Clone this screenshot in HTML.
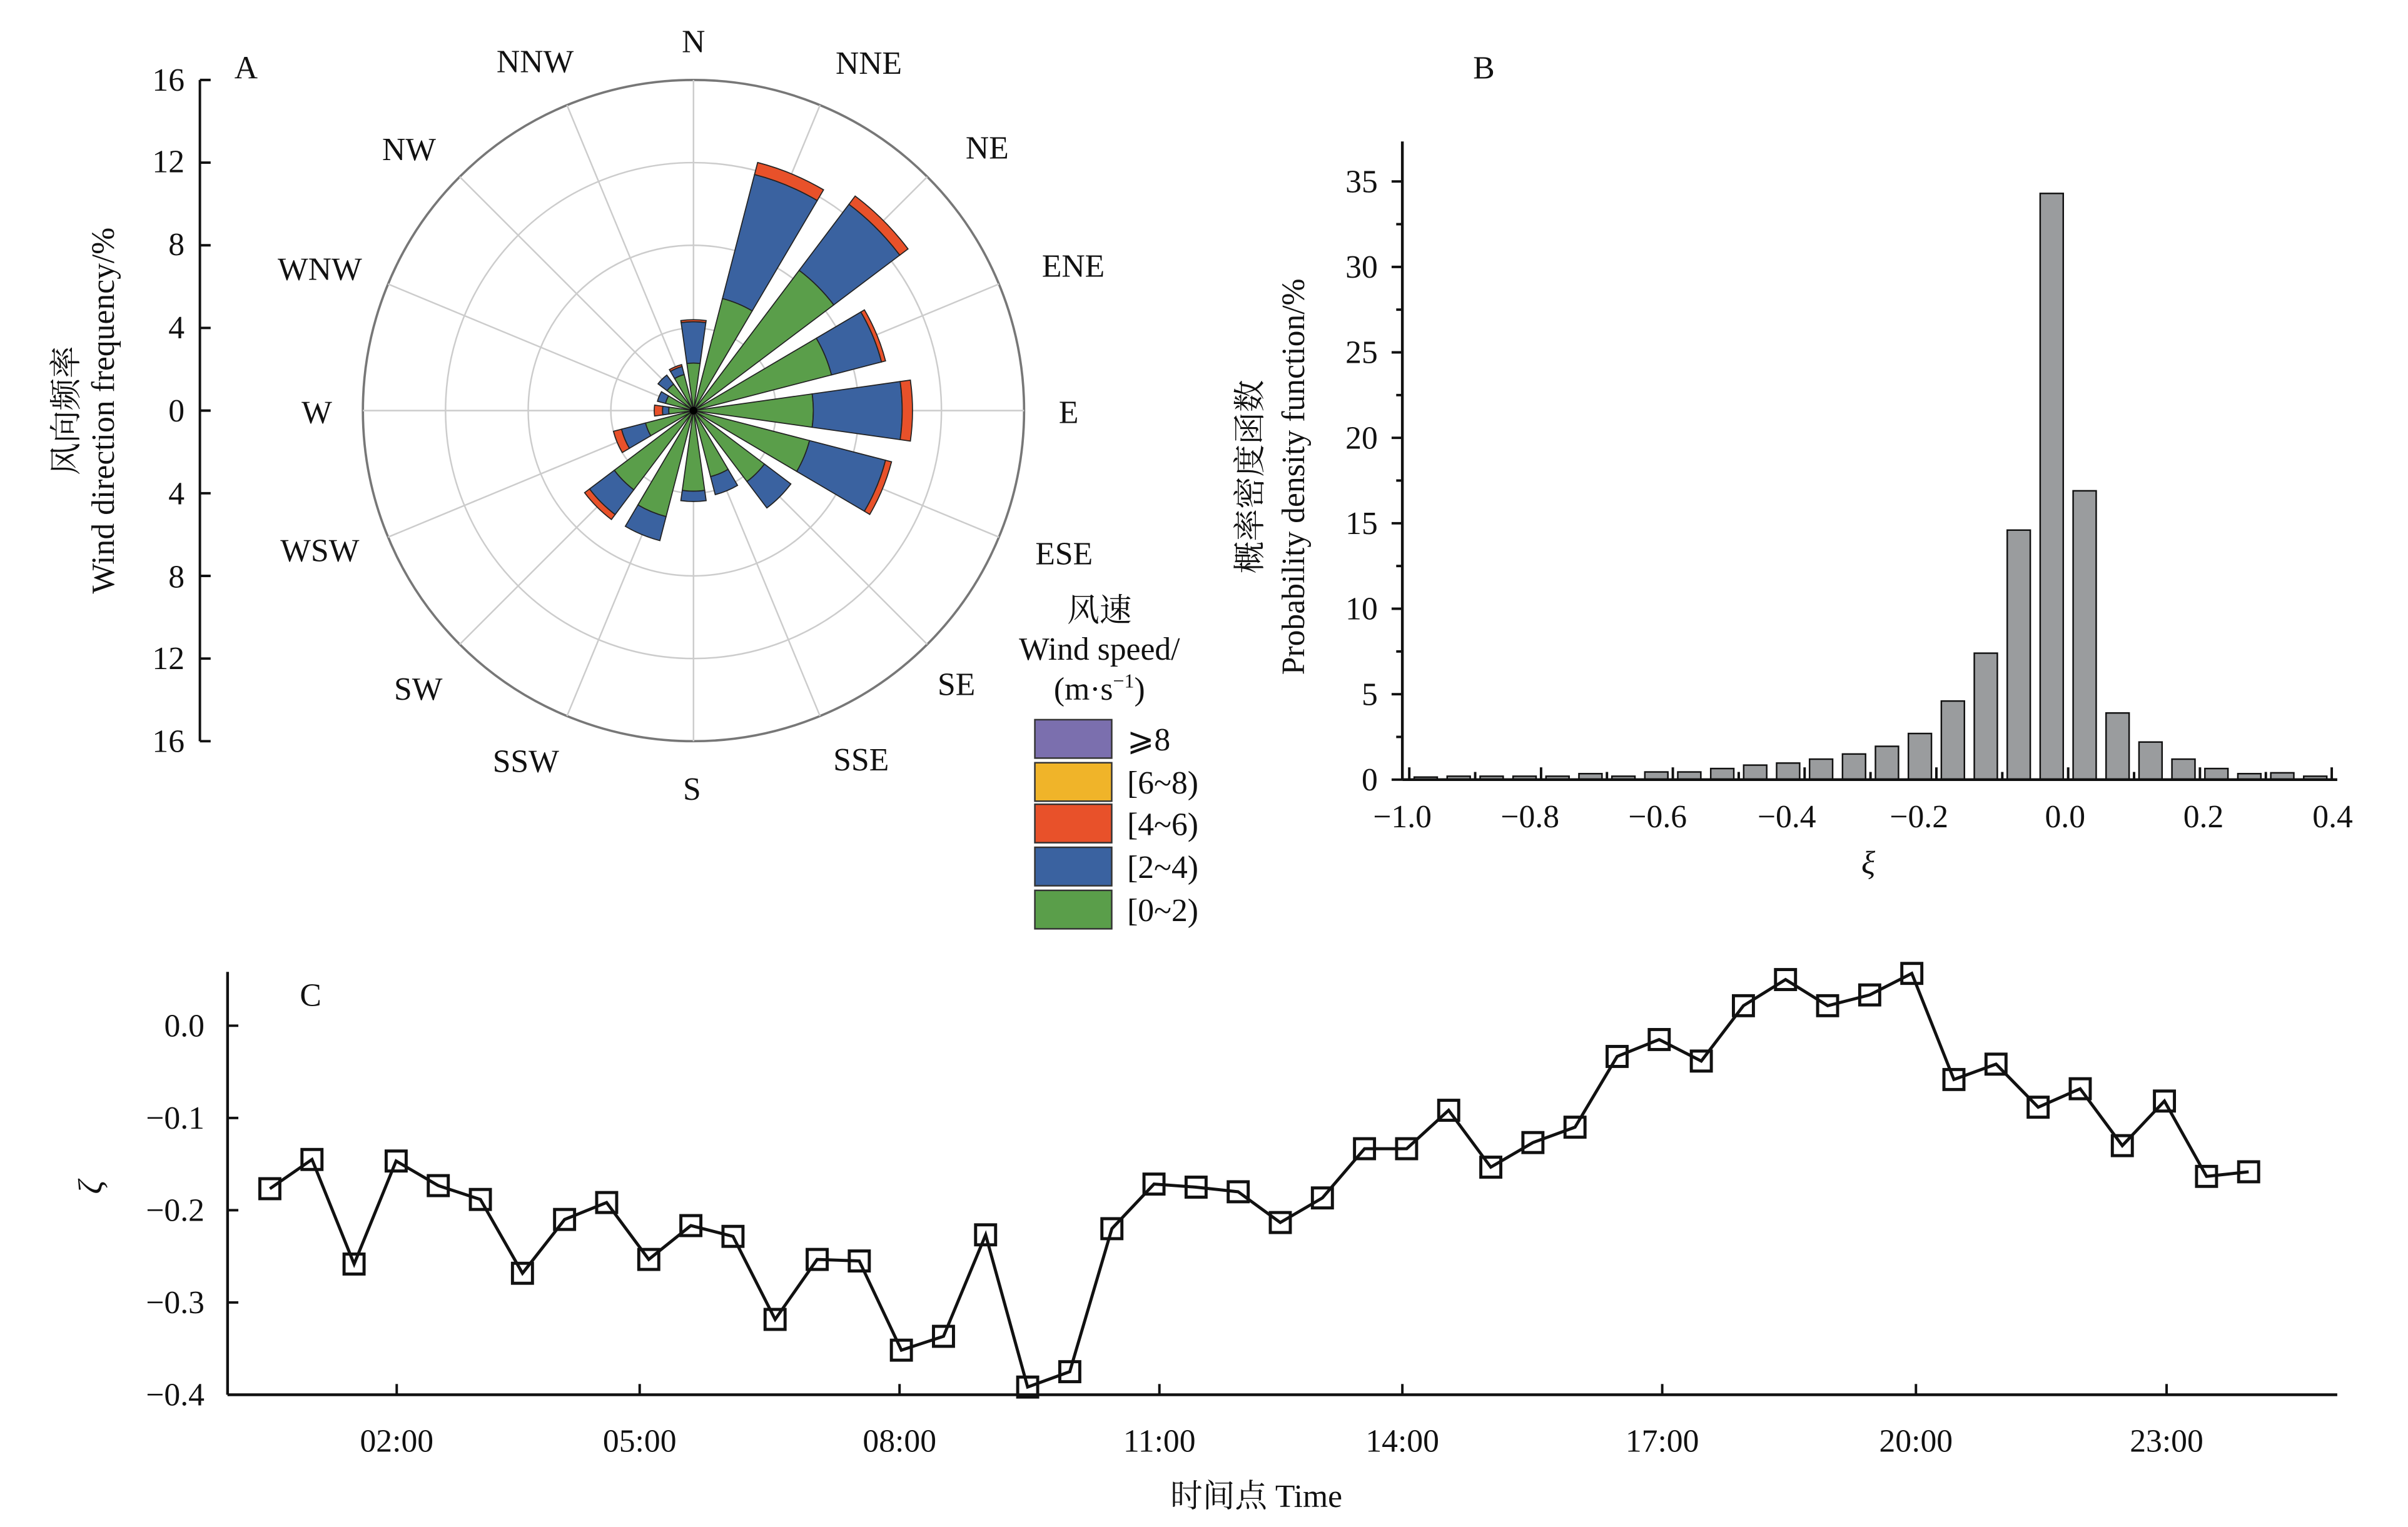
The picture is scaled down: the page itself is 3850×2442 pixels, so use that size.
<!DOCTYPE html>
<html><head><meta charset="utf-8"><style>
html,body{margin:0;padding:0;background:#fff}
svg{display:block}
text{font-family:"Liberation Serif","Noto Serif CJK SC","Noto Sans CJK SC",serif;fill:#111}
</style></head><body>
<svg id="s" xmlns="http://www.w3.org/2000/svg" width="3850" height="2442" viewBox="0 0 1566 993" preserveAspectRatio="none">
<rect width="1566" height="993" fill="#fff"/>
<g id="rose"></g>
<g stroke="#111" stroke-width="1.6">
<line x1="130" y1="52" x2="130" y2="482"/>
</g>
<g id="aticks"></g>
<g font-size="21" text-anchor="end">
<text x="120" y="59">16</text><text x="120" y="112">12</text><text x="120" y="166">8</text><text x="120" y="220">4</text><text x="120" y="274">0</text><text x="120" y="328">4</text><text x="120" y="382">8</text><text x="120" y="435">12</text><text x="120" y="489">16</text>
</g>
<text x="160" y="51" font-size="21" text-anchor="middle">A</text>
<g transform="translate(50,267) rotate(-90)"><text font-size="21" text-anchor="middle">风向频率</text></g>
<g transform="translate(74,267) rotate(-90)"><text font-size="21" text-anchor="middle">Wind direction frequency/%</text></g>
<g font-size="21" text-anchor="middle">
<text x="451" y="34">N</text><text x="565" y="48">NNE</text><text x="642" y="103">NE</text><text x="698" y="180">ENE</text>
<text x="695" y="275">E</text><text x="692" y="367">ESE</text><text x="622" y="452">SE</text><text x="560" y="501">SSE</text>
<text x="450" y="520">S</text><text x="342" y="502">SSW</text><text x="272" y="455">SW</text><text x="208" y="365">WSW</text>
<text x="206" y="275">W</text><text x="208" y="182">WNW</text><text x="266" y="104">NW</text><text x="348" y="47">NNW</text>
</g>
<g font-size="21" text-anchor="middle">
<text x="715" y="404">风速</text><text x="715" y="429">Wind speed/</text><text x="715" y="455">(m·s<tspan font-size="13" dy="-8">−1</tspan><tspan dy="8">)</tspan></text>
</g>
<g stroke="#333" stroke-width="1">
<rect x="673" y="468" width="50" height="25" fill="#7b6fae"/>
<rect x="673" y="496" width="50" height="25" fill="#f0b429"/>
<rect x="673" y="523" width="50" height="25" fill="#e8512a"/>
<rect x="673" y="551" width="50" height="25" fill="#3a62a0"/>
<rect x="673" y="579" width="50" height="25" fill="#5a9e4a"/>
</g>
<g font-size="21">
<text x="733" y="488">⩾8</text><text x="733" y="516">[6~8)</text><text x="733" y="543">[4~6)</text><text x="733" y="571">[2~4)</text><text x="733" y="599">[0~2)</text>
</g>
<g id="bars"></g>
<g stroke="#111" stroke-width="1.8">
<line x1="912" y1="92" x2="912" y2="507"/>
<line x1="912" y1="507" x2="1520" y2="507"/>
</g>
<g id="bticks"></g>
<g font-size="21" text-anchor="end" id="blab"></g>
<g font-size="21" text-anchor="middle">
<text x="912" y="538">−1.0</text><text x="995" y="538">−0.8</text><text x="1078" y="538">−0.6</text><text x="1162" y="538">−0.4</text><text x="1248" y="538">−0.2</text><text x="1343" y="538">0.0</text><text x="1433" y="538">0.2</text><text x="1517" y="538">0.4</text>
<text x="1215" y="568" font-style="italic">ξ</text>
<text x="965" y="51">B</text>
</g>
<g transform="translate(820,310) rotate(-90)"><text font-size="21" text-anchor="middle">概率密度函数</text></g>
<g transform="translate(848,310) rotate(-90)"><text font-size="21" text-anchor="middle">Probability density function/%</text></g>
<g stroke="#111" stroke-width="1.8">
<line x1="148" y1="632" x2="148" y2="907"/>
<line x1="148" y1="907" x2="1520" y2="907"/>
</g>
<g id="cticks"></g>
<g font-size="21" text-anchor="end">
<text x="133" y="674">0.0</text><text x="133" y="734">−0.1</text><text x="133" y="794">−0.2</text><text x="133" y="854">−0.3</text><text x="133" y="914">−0.4</text>
</g>
<g font-size="21" text-anchor="middle">
<text x="258" y="944">02:00</text><text x="416" y="944">05:00</text><text x="585" y="944">08:00</text><text x="754" y="944">11:00</text><text x="912" y="944">14:00</text><text x="1081" y="944">17:00</text><text x="1246" y="944">20:00</text><text x="1409" y="944">23:00</text>
<text x="817" y="980">时间点 Time</text>
<text x="202" y="654">C</text>
</g>
<g transform="translate(66,772) rotate(-90)"><text font-size="22" font-style="italic" text-anchor="middle">ζ</text></g>
<g id="line"></g>
</svg>
<script>
var NS="http://www.w3.org/2000/svg";
function el(p,t,a){var e=document.createElementNS(NS,t);for(var k in a)e.setAttribute(k,a[k]);document.getElementById(p).appendChild(e);return e;}
var cx=451,cy=267,R=215,u=R/16;
for(var r=1;r<=4;r++)el("rose","circle",{cx:cx,cy:cy,r:r*4*u,fill:"none",stroke:r==4?"#777":"#ccc","stroke-width":r==4?1.5:1});
for(var i=0;i<16;i++){var t=i*22.5*Math.PI/180;el("rose","line",{x1:cx,y1:cy,x2:cx+R*Math.sin(t),y2:cy-R*Math.cos(t),stroke:"#ccc","stroke-width":1});}
var D=[[2.3,4.3,4.4],[5.6,11.8,12.4],[8.5,12.5,13.0],[6.9,9.4,9.6],[5.8,10.1,10.6],[5.8,9.6,9.9],[4.3,5.9,5.9],[3.3,4.2,4.2],[3.9,4.4,4.4],[5.3,6.5,6.5],[4.8,6.3,6.6],[2.4,3.6,4.0],[1.2,1.5,1.9],[1.4,1.8,1.8],[1.6,2.15,2.15],[1.8,2.2,2.3]];
var C=["#5a9e4a","#3a62a0","#e8512a"];
function P(r,a){return (cx+r*Math.sin(a)).toFixed(2)+","+(cy-r*Math.cos(a)).toFixed(2);}
for(var i=0;i<16;i++){var c=i*22.5*Math.PI/180,h=8*Math.PI/180,a1=c-h,a2=c+h,prev=0;
 for(var s=0;s<3;s++){var r1=prev*u,r2=D[i][s]*u;if(r2-r1<0.3){prev=D[i][s];continue;}
  var d="M"+P(r1,a1)+" L"+P(r2,a1)+" A"+r2+","+r2+" 0 0 1 "+P(r2,a2)+" L"+P(r1,a2)+(r1>0?" A"+r1+","+r1+" 0 0 0 "+P(r1,a1):"")+" Z";
  el("rose","path",{d:d,fill:C[s],stroke:"#222","stroke-width":0.7});prev=D[i][s];}}
el("rose","circle",{cx:cx,cy:cy,r:2.5,fill:"#000"});
for(var v=-16;v<=16;v+=4){var y=267+v*u;el("aticks","line",{x1:130,y1:y,x2:137,y2:y,stroke:"#111","stroke-width":1.6});}
var B=[0.15,0.2,0.2,0.2,0.2,0.35,0.2,0.45,0.45,0.65,0.85,0.97,1.2,1.5,1.95,2.7,4.6,7.4,14.6,34.3,16.9,3.9,2.2,1.2,0.65,0.35,0.4,0.2];
function X(v){return 1345+v*428.5;} var yu=389/35;
for(var i=0;i<B.length;i++){var xc=X(-1+0.025+0.05*i),w=15;el("bars","rect",{x:xc-w/2,y:507-B[i]*yu,width:w,height:B[i]*yu,fill:"#9a9c9e",stroke:"#111","stroke-width":1});}
for(var v=0;v<=35;v+=2.5){var y=507-v*yu;el("bticks","line",{x1:912,y1:y,x2:v%5==0?905:908,y2:y,stroke:"#111","stroke-width":1.6});
 if(v%5==0){var t=el("blab","text",{x:896,y:y+7});t.textContent=v;}}
for(var k=-10;k<=4;k++){var x=X(k/10);el("bticks","line",{x1:x,y1:507,x2:x,y2:k%2==0?499:502,stroke:"#111","stroke-width":1.6});}
var Y=[773,754,822,755,771,780,828,793,782,819,797,804,858,819,820,878,869,803,902,892,799,770,772,775,795,779,747,747,722,759,743,733,687,676,690,654,637,654,647,633,702,692,720,708,745,716,765,762];
for(var v=0;v<=4;v++){var y=667+v*60;el("cticks","line",{x1:148,y1:y,x2:155,y2:y,stroke:"#111","stroke-width":1.6});}
var xs=[258,416,585,754,912,1081,1246,1409];xs.forEach(function(x){el("cticks","line",{x1:x,y1:907,x2:x,y2:900,stroke:"#111","stroke-width":1.6});});
var pts=[];for(var i=0;i<48;i++){pts.push((175.5+i*27.38).toFixed(1)+","+Y[i]);}
el("line","polyline",{points:pts.join(" "),fill:"none",stroke:"#111","stroke-width":2});
for(var i=0;i<48;i++){var x=175.5+i*27.38;el("line","rect",{x:x-6.5,y:Y[i]-6.5,width:13,height:13,fill:"none",stroke:"#111","stroke-width":2});}
</script>
</body></html>
